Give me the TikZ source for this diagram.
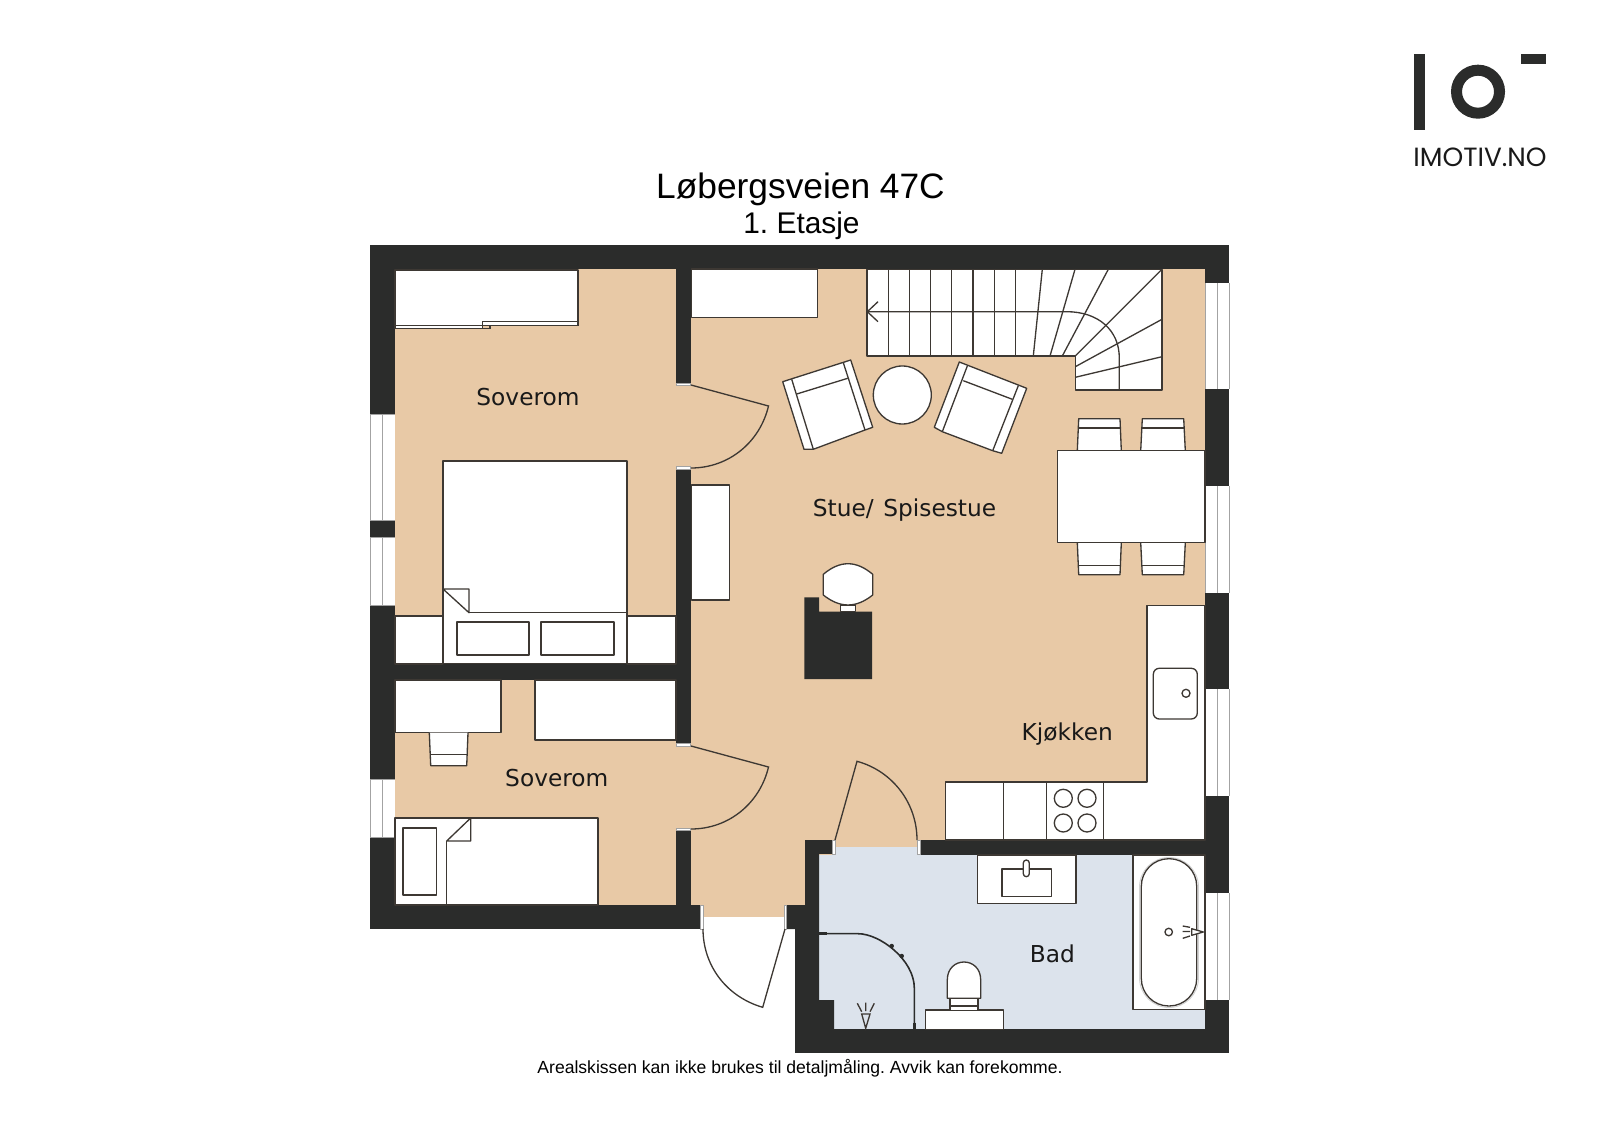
\documentclass[tikz,border=0pt]{standalone}
\usepackage{fontspec}
\setmainfont{Liberation Sans}
\newfontfamily\roomfont[WordSpace=1.3]{DejaVu Sans}
\newfontfamily\logofont{Poppins}
\usepackage{xcolor}
\definecolor{wallc}{HTML}{2B2C2B}
\definecolor{floorc}{HTML}{E8C9A6}
\definecolor{bathc}{HTML}{DCE3EC}
\definecolor{linec}{HTML}{3D3833}
\definecolor{glassc}{HTML}{A3A3A3}

\begin{document}
\frenchspacing
\begin{tikzpicture}[x=0.2mm, y=-0.2mm,
    wall/.style={fill=wallc},
    furn/.style={draw=linec, fill=white, line width=0.75pt, line join=round},
    thin line/.style={draw=linec, line width=0.75pt},
    sill/.style={draw=glassc, fill=white, line width=0.4pt},
    room/.style={font=\roomfont\fontsize{13.25}{15}\selectfont, text=black!90, inner sep=0pt}]
  \useasboundingbox (0,0) rectangle (1600,1132);

  % Floors
  \fill[floorc] (395,269) rectangle (1205,905);
  \fill[floorc] (691,905) rectangle (785,917);
  \fill[bathc] (819,855) -- (835,855) -- (835,847) -- (917,847) -- (917,855) -- (1205,855)
    -- (1205,1029.3) -- (834,1029.3) -- (834,1000) -- (819,1000) -- cycle;

  % Outer walls
  \fill[wall] (370,245) rectangle (1229,269);
  \fill[wall] (370,245) rectangle (395,414);
  \fill[wall] (370,520) rectangle (395,537.5);
  \fill[wall] (370,605.7) rectangle (395,779);
  \fill[wall] (370,837) rectangle (395,929);
  \fill[wall] (370,905) rectangle (700.7,929);
  \fill[wall] (1205,245) rectangle (1229,283);
  \fill[wall] (1205,389) rectangle (1229,486);
  \fill[wall] (1205,592.7) rectangle (1229,689);
  \fill[wall] (1205,796) rectangle (1229,893);
  \fill[wall] (1205,1000) rectangle (1229,1053.3);
  \fill[wall] (795,1029.3) rectangle (1229,1053.3);

  % Inner walls
  \fill[wall] (676,269) rectangle (690.7,383);
  \fill[wall] (676,469) rectangle (690.7,743);
  \fill[wall] (676,830.7) rectangle (690.7,905);
  \fill[wall] (395,664) rectangle (676,680);
  \fill[wall] (920,840) rectangle (1205,855);
  \fill[wall] (805,840) rectangle (832.7,854);
  \fill[wall] (805,840) -- (819,840) -- (819,1000) -- (834,1000) -- (834,1040) -- (795,1040)
    -- (795,929) -- (786.7,929) -- (786.7,905) -- (805,905) -- cycle;

  % Windows
  \foreach \ya/\yb in {414/520, 537.5/605.7, 779/837} {
    \draw[glassc, line width=0.5pt] (370,\ya) -- (370,\yb);
    \draw[glassc, line width=0.5pt] (382,\ya) -- (382,\yb);
    \draw[glassc, line width=0.5pt] (370,\ya) -- (395,\ya) (370,\yb) -- (395,\yb);
  }
  \foreach \ya/\yb in {283/389, 486/592.7, 689/796, 893/1000} {
    \draw[glassc, line width=0.5pt] (1229,\ya) -- (1229,\yb);
    \draw[glassc, line width=0.5pt] (1217,\ya) -- (1217,\yb);
    \draw[glassc, line width=0.5pt] (1205,\ya) -- (1205,\yb);
  }

  % Sills
  \draw[sill] (676,383) rectangle (690.7,385.6);
  \draw[sill] (676,466.5) rectangle (690.7,469);
  \draw[sill] (676,743) rectangle (690.7,746);
  \draw[sill] (676,828) rectangle (690.7,830.7);
  \draw[sill] (700.7,905) rectangle (703.3,929);
  \draw[sill] (784.3,905) rectangle (786.7,929);
  \draw[sill] (832.7,840) rectangle (835.7,854);
  \draw[sill] (917,840) rectangle (920,854);

  % Doors
  \draw[thin line] (691,385) -- (768.5,406) .. controls (760,442) and (729,468) .. (691,468);
  \draw[thin line] (691,746) -- (768.5,767) .. controls (760,803) and (729,829) .. (691,829);
  \draw[thin line] (785,929) -- (762.7,1007.3) .. controls (727,997) and (703,966) .. (703,929);
  \draw[thin line] (835,840) -- (857,761.3) .. controls (892.5,771) and (917,803) .. (917,840);

  % Bedroom 1
  \draw[furn] (395,270) -- (578,270) -- (578,325.7) -- (482.7,325.7) -- (482.7,328.7) -- (395,328.7) -- cycle;
  \draw[thin line] (482.7,321.7) rectangle (578,325.7);
  \draw[thin line] (395,325.7) rectangle (490,328.7);
  \draw[furn] (443,461) rectangle (627,663.5);
  \draw[furn] (443,589) -- (469,589) -- (469,612.7) -- cycle;
  \draw[thin line] (469,612.7) -- (627,612.7);
  \draw[furn] (457,622) rectangle (529,655);
  \draw[furn] (541,622) rectangle (614,655);
  \draw[furn] (395,616) rectangle (443,664);
  \draw[furn] (627,616) rectangle (676,664);

  % Bedroom 2
  \draw[furn] (395,680) rectangle (501,732.7);
  \draw[furn] (429.3,732.7) -- (430.7,765.7) -- (466.7,765.7) -- (468,732.7);
  \draw[thin line] (430.3,754.3) -- (467,754.3);
  \draw[furn] (535,680) rectangle (676,740);
  \draw[furn] (395,818) rectangle (598,905);
  \draw[thin line] (446.7,905) -- (446.7,841);
  \draw[furn] (446.7,841) -- (470.7,818) -- (470.7,841) -- cycle;
  \draw[furn] (403,828) rectangle (436.7,895);

  % Living room
  \draw[furn] (691.7,269) rectangle (817.3,317.3);
  \draw[furn] (691.7,485) rectangle (729.6,600);
  \draw[furn] (867,269.3) -- (1162,269.3) -- (1162,390) -- (1075.3,390) -- (1075.3,356) -- (867,356) -- cycle;
  \foreach \xt in {888.3,909.3,930.7,951.7,973,994.3,1015.7}
    \draw[thin line] (\xt,269.3) -- (\xt,356);
  \foreach \xa/\ya/\xb/\yb in {1042.3/269.3/1033.3/356, 1075/269.3/1050/356, 1108.3/269.3/1062.3/356,
      1162/269.3/1075.3/356, 1162/319.3/1075.3/366.7, 1162/356.7/1075.3/377.3}
    \draw[thin line] (\xa,\ya) -- (\xb,\yb);
  \draw[thin line] (867.3,311.7) -- (1066.7,311.7) .. controls (1098,311.7) and (1119.3,330) .. (1119.3,358) -- (1119.3,390);
  \draw[thin line] (878,301.7) -- (867.3,311.7) -- (878,321.7);

  % Armchairs and round table
  \draw[furn] (782.7,381.7) -- (850.7,360) -- (872.7,427.3) -- (865,430) -- (813.3,449.3) -- (804,449.3) -- cycle;
  \draw[thin line] (791.7,379.3) -- (813.3,449.3);
  \draw[thin line] (843.3,362.7) -- (865,430);
  \draw[thin line] (796.7,394) -- (847.7,378.3);
  \draw[furn] (959.3,362) -- (1026.7,388.3) -- (1001.7,453.3) -- (992.7,450.7) -- (942.3,431.7) -- (934.3,427.3) -- cycle;
  \draw[thin line] (967.3,366) -- (942.3,431.7);
  \draw[thin line] (1018.3,385.7) -- (992.7,450.7);
  \draw[thin line] (963.3,380.7) -- (1012.3,399.3);
  \draw[furn] (902.3,395) circle[radius=5.8mm];

  % Dining table and chairs
  \foreach \xa/\xb/\xc/\xd in {1077.3/1078.7/1120/1121.3, 1140.7/1142.3/1183.7/1185.3} {
    \draw[furn] (\xa,450.7) -- (\xb,418.7) -- (\xc,418.7) -- (\xd,450.7);
    \draw[thin line, line width=1pt] (\xb,428) -- (\xc,428);
    \draw[furn] (\xa,542.7) -- (\xb,574.7) -- (\xc,574.7) -- (\xd,542.7);
    \draw[thin line] (\xb,565.7) -- (\xc,565.7);
  }
  \draw[furn] (1057.3,450.7) rectangle (1205,542.7);

  % Piano and stool
  \fill[wall] (804.3,597.3) -- (819,597.3) -- (819,611.7) -- (872,611.7) -- (872,679) -- (804.3,679) -- cycle;
  \draw[furn] (840.7,605) rectangle (855.7,611.7);
  \draw[furn] (823.3,574.3) .. controls (840,560.2) and (856,560.2) .. (872.7,574.3) -- (872.7,595)
    .. controls (856,608.3) and (840,608.3) .. (823.3,595) -- cycle;

  % Kitchen
  \draw[furn] (945.7,840) -- (945.7,782) -- (1147,782) -- (1147,605.3) -- (1205,605.3) -- (1205,840) -- cycle;
  \foreach \xt in {1003.3,1046.7,1103.3}
    \draw[thin line] (\xt,782) -- (\xt,840);
  \foreach \xt/\yt in {1063.3/798.3, 1087/798.3, 1063.3/823, 1087/823}
    \draw[furn] (\xt,\yt) circle[radius=1.8mm];
  \draw[furn, rounded corners=1.2mm] (1153.3,668.3) rectangle (1197.3,719);
  \draw[furn] (1186,693.3) circle[radius=0.8mm];

  % Bathroom
  \draw[furn] (977.3,855) rectangle (1076,903.3);
  \draw[furn] (1002,869) rectangle (1051.3,896.3);
  \draw[furn, rounded corners=0.6mm] (1023.3,860) rectangle (1029.3,876.7);
  \draw[furn] (1133,855) rectangle (1205,1009.3);
  \draw[gray!35, line width=0.5pt, rounded corners=5.9mm] (1139.5,857.5) rectangle (1198.5,1007.5);
  \draw[furn, rounded corners=5.5mm] (1141.3,858.7) rectangle (1196.7,1006);
  \draw[furn] (1168.7,932) circle[radius=0.75mm];
  \draw[furn] (1191.7,928.7) -- (1203.3,932) -- (1191.7,935.3) -- cycle;
  \draw[thin line] (1182.7,926) -- (1190,927.3) (1182.7,931.5) -- (1190,931.5) (1182.7,938.3) -- (1190,936);
  \draw[furn] (925.7,1010) rectangle (1003.3,1029.3);
  \draw[furn] (950,998.3) rectangle (978,1010.7);
  \draw[thin line] (950,1006) -- (978,1006);
  \draw[furn] (947.3,998.3) -- (947.3,980) .. controls (947.3,956) and (980.7,956) .. (980.7,980) -- (980.7,998.3) -- cycle;

  % Shower
  \draw[wallc, line width=0.9pt] (819.3,933.7) -- (858,933.7) .. controls (880,933.7) and (914.3,960) .. (914.3,988) -- (914.3,1029);
  \draw[wallc, line width=2pt] (819.3,933.7) -- (826.7,933.7);
  \draw[wallc, line width=2pt] (914.3,1022.5) -- (914.3,1029);
  \fill[wallc] (891.7,946) circle[radius=0.45mm];
  \fill[wallc] (901.7,956) circle[radius=0.45mm];
  \draw[thin line] (861.7,1014) -- (870,1014) -- (865.7,1028.3) -- cycle;
  \draw[thin line] (857.3,1003.3) -- (861.7,1011.7) (865.7,1002.7) -- (865.7,1011) (874.3,1003.3) -- (870,1011.7);

  % Labels
  \node[room] (bedroomA) at (528,397.5) {Soverom};
  \node[room] (bedroomB) at (556.8,777.7) {Soverom};
  \node[room] (living) at (904.5,510) {Stue/ Spisestue};
  \node[room] (kitchen) at (1067.3,734) {Kjøkken};
  \node[room] (bath) at (1052.3,954) {Bad};
  \node[font=\fontsize{20.1}{24}\selectfont, inner sep=0pt] (title) at (800.5,189) {Løbergsveien 47C};
  \node[font=\fontsize{17}{20}\selectfont, inner sep=0pt] (floorname) at (801.5,225.5) {1. Etasje};
  \node[font=\fontsize{10}{12}\selectfont, inner sep=0pt] (disclaimer) at (800,1068.5) {Arealskissen kan ikke brukes til detaljmåling. Avvik kan forekomme.};

  % Logo
  \fill[wall] (1414.3,54) rectangle (1425.3,130);
  \draw[wallc, line width=2.2mm] (1478,91.7) circle[radius=4.3mm];
  \fill[wall] (1520.7,53.7) rectangle (1546.3,64.3);
  \node[font=\logofont\fontsize{15}{17}\selectfont, text=black!90, inner sep=0pt] (logotext) at (1480,157) {IMOTIV.NO};
\end{tikzpicture}
\end{document}
